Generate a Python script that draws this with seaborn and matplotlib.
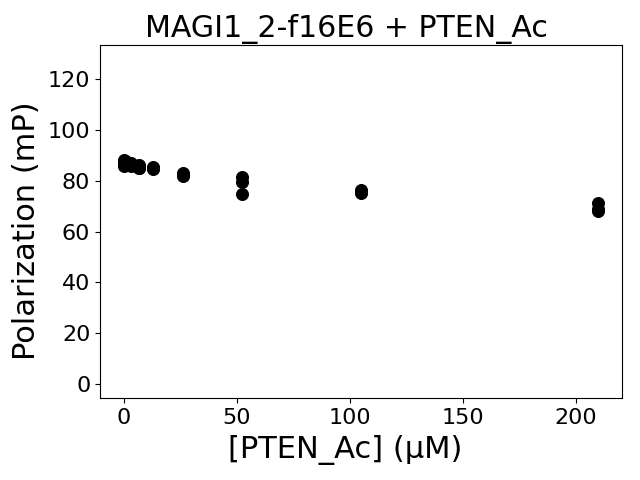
import matplotlib
matplotlib.use("Agg")
import matplotlib.pyplot as plt
import seaborn as sns
import pandas as pd

conc = [210, 210, 210, 105, 105, 105, 52.5, 52.5, 52.5, 26.25, 26.25, 26.25,
        13.125, 13.125, 13.125, 6.5625, 6.5625, 6.5625, 3.28, 3.28, 3.28,
        1.64, 1.64, 1.64, 0.82, 0.82, 0.82, 0.41, 0.41, 0.41, 0, 0, 0]
pol = [71.2, 69.0, 68.0, 76.3, 75.6, 75.2, 81.4, 79.4, 74.8, 83.1, 82.2, 81.9,
       85.3, 84.9, 84.6, 86.3, 85.2, 84.9, 87.1, 86.4, 86.0,
       87.3, 86.8, 86.2, 87.6, 86.9, 86.1, 88.0, 87.0, 86.3, 88.3, 87.2, 86.0]

df = pd.DataFrame({"conc": conc, "pol": pol})

fig, ax = plt.subplots(figsize=(6.4, 4.8), dpi=100)
sns.scatterplot(data=df, x="conc", y="pol", color="black", s=75, edgecolor="black", ax=ax)
ax.set_ylim(-5.5, 133.5)
ax.set_xlim(-10.5, 220.5)
ax.set_title("MAGI1_2-f16E6 + PTEN_Ac", fontsize=21.6, x=0.473)
ax.set_xlabel("[PTEN_Ac] (μM)", fontsize=22)
ax.set_ylabel("Polarization (mP)", fontsize=22)
ax.xaxis.set_label_coords(0.469, -0.106)
ax.yaxis.set_label_coords(-0.113, 0.473)
ax.tick_params(labelsize=16)
fig.subplots_adjust(left=100/640, right=622/640, top=1-45/480, bottom=1-398/480)
fig.savefig("out.png")
